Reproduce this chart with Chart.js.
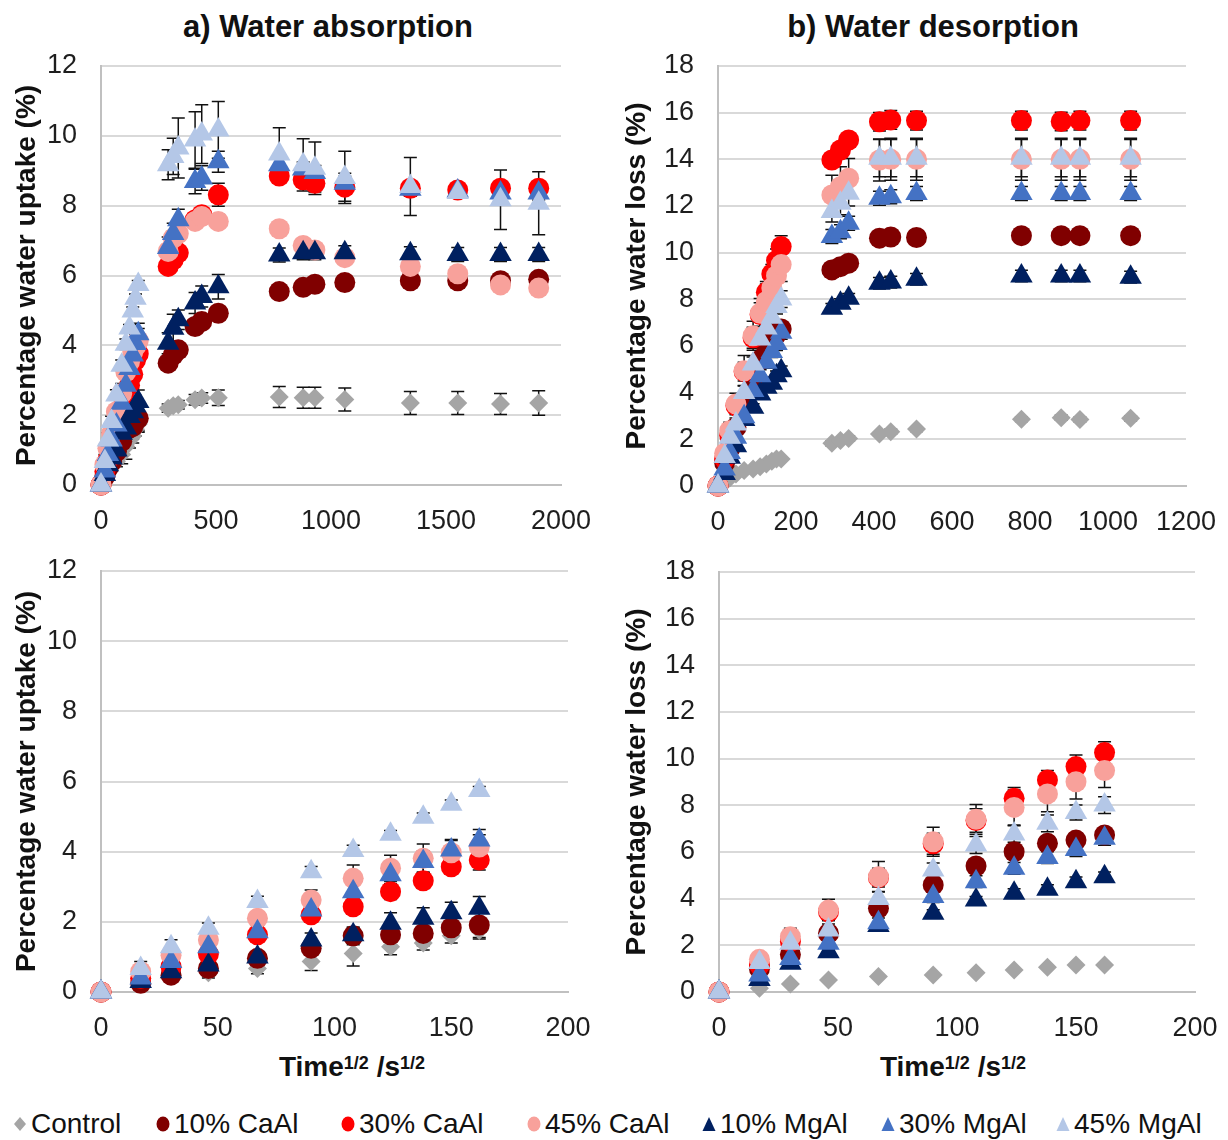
<!DOCTYPE html>
<html>
<head>
<meta charset="utf-8">
<script src="https://cdn.jsdelivr.net/npm/chart.js@4.4.0/dist/chart.umd.min.js"></script>
<style>
  html, body { margin:0; padding:0; background:#fff; }
  body { width:1228px; height:1140px; overflow:hidden; position:relative; font-family:"Liberation Sans", Arial, sans-serif; color:#111; }
  canvas { position:absolute; }
  .ttl { position:absolute; font-weight:bold; font-size:31px; line-height:34px; text-align:center; width:420px; white-space:nowrap; }
  .xt { position:absolute; font-weight:bold; font-size:28px; line-height:32px; text-align:center; width:300px; white-space:nowrap; }
  .xt sup { font-size:18px; vertical-align:top; position:relative; top:-4px; }
  .lg { position:absolute; top:1107px; font-size:28px; line-height:34px; white-space:nowrap; display:flex; align-items:center; }
  .lg svg { margin-right:4px; }
</style>
</head>
<body>
<div class="ttl" style="left:118px; top:10px;">a) Water absorption</div>
<div class="ttl" style="left:723px; top:10px;">b) Water desorption</div>
<canvas id="c1" width="610" height="510" style="left:0px; top:40px;"></canvas>
<canvas id="c2" width="618" height="510" style="left:610px; top:40px;"></canvas>
<canvas id="c3" width="610" height="500" style="left:0px; top:540px;"></canvas>
<canvas id="c4" width="618" height="500" style="left:610px; top:540px;"></canvas>
<div class="xt" style="left:202px; top:1051px;">Time<sup>1/2</sup> /s<sup>1/2</sup></div>
<div class="xt" style="left:803px; top:1051px;">Time<sup>1/2</sup> /s<sup>1/2</sup></div>
<div id="legend"></div>
<script>
// ---------- DATA ----------
const seriesNames = ["Control", "10% CaAl", "30% CaAl", "45% CaAl", "10% MgAl", "30% MgAl", "45% MgAl"];

// Absorption: time^1/2 (s^1/2)
const absX = [0,17,30,46,67,90,108,124,138,150,162,292,314,336,409,438,510,775,879,930,1060,1345,1551,1737,1903];
const absControl = [0,0.3,0.5,0.55,0.67,0.87,1.1,1.29,1.4,1.6,1.75, 2.2,2.27,2.3,2.44,2.49,2.5, 2.52,2.5,2.5,2.45,2.35,2.35,2.32,2.35];
const absCa10 = [0,0.25,0.48,0.67,0.96,1.25,1.6,1.63,1.67,1.83,1.91, 3.49,3.72,3.87,4.54,4.68,4.92, 5.54,5.66,5.75,5.8,5.85,5.85,5.85,5.89];
const absCa30 = [0,0.39,0.72,1.08,1.63,2.2,2.43,2.86,3.17,3.57,3.76, 6.26,6.45,6.65,7.59,7.74,8.31, 8.85,8.74,8.64,8.53,8.5,8.45,8.5,8.5];
const absCa45 = [0,0.58,1.05,1.48,2.1,2.62,3.24,3.53,3.81,3.97,4.13, 6.69,7.07,7.2,7.55,7.69,7.55, 7.34,6.86,6.73,6.51,6.26,6.05,5.73,5.64];
const absMg10 = [0,0.3,0.58,0.77,1.0,1.48,1.63,1.96,2.1,2.26,2.39, 4.06,4.49,4.73,5.21,5.4,5.68, 6.59,6.65,6.65,6.65,6.62,6.6,6.6,6.6];
const absMg30 = [0,0.4,0.87,1.29,1.72,2.34,2.86,3.34,3.72,4.05,4.33, 6.8,7.2,7.6,8.69,8.79,9.26, 9.17,9.05,8.95,8.64,8.47,8.42,8.36,8.36];
const absMg45 = [0,0.67,1.29,1.82,2.58,3.43,4.03,4.5,4.98,5.35,5.74, 9.17,9.41,9.65,9.88,10.05,10.17, 9.48,9.17,9.07,8.81,8.55,8.38,8.17,8.07];
// Absorption error bars (±)
const absControlErr = [0,0.1,0.1,0.15,0.15,0.26,0.36,0.23,0.2,0.2,0.2, 0.12,0.12,0.12,0.15,0.15,0.22, 0.3,0.3,0.3,0.33,0.33,0.33,0.3,0.35];
const absCa10Err = [0,0.05,0.08,0.1,0.15,0.2,0.25,0.3,0.35,0.28,0.4, 0.15,0.15,0.15,0.15,0.15,0.15, 0.12,0.12,0.12,0.12,0.12,0.12,0.12,0.12];
const absCa30Err = [0,0.05,0.1,0.1,0.15,0.2,0.2,0.22,0.22,0.15,0.28, 0.15,0.15,0.15,0.2,0.2,0.33, 0.2,0.2,0.25,0.4,0.1,0.1,0.1,0.1];
const absCa45Err = [0,0.1,0.1,0.1,0.15,0.29,0.38,0.37,0.41,0.35,0.35, 0.2,0.2,0.2,0.2,0.2,0.2, 0.15,0.15,0.15,0.15,0.15,0.15,0.15,0.15];
const absMg10Err = [0,0.05,0.08,0.1,0.15,0.2,0.2,0.3,0.3,0.3,0.33, 0.3,0.4,0.28,0.3,0.3,0.35, 0.2,0.2,0.2,0.2,0.2,0.2,0.2,0.2];
const absMg30Err = [0,0.1,0.15,0.15,0.15,0.2,0.2,0.25,0.3,0.3,0.3, 0.3,0.3,0.3,0.35,0.35,0.3, 0.2,0.2,0.2,0.2,0.2,0.2,0.2,0.2];
const absMg45Err = [0,0.2,0.2,0.15,0.15,0.15,0.15,0.1,0.12,0.12,0.12, 0.43,0.52,0.86,0.81,0.84,0.81, 0.75,0.75,0.75,0.75,0.83,0.1,0.85,0.9];

// Desorption: time^1/2 (s^1/2)
const desX = [0,17,30,46,67,90,108,124,138,150,162,292,314,335,414,443,509,778,880,928,1058];
const desControl = [0,0.16,0.34,0.51,0.66,0.73,0.83,0.94,1.06,1.16,1.16, 1.83,1.95,2.04,2.23,2.33,2.44, 2.86,2.93,2.85,2.9];
const desCa10 = [0,1.0,1.61,2.51,3.59,4.59,5.4,6.01,6.37,6.51,6.73, 9.26,9.4,9.55,10.62,10.67,10.65, 10.73,10.73,10.73,10.73];
const desCa30 = [0,1.16,2.16,3.44,4.9,6.35,7.35,8.3,9.09,9.66,10.26, 13.97,14.4,14.83,15.61,15.69,15.66, 15.66,15.62,15.66,15.66];
const desCa45 = [0,1.4,2.37,3.51,4.94,6.44,7.4,7.91,8.49,9.01,9.49, 12.47,12.83,13.19,13.97,14.0,14.0, 14.0,14.0,14.0,14.0];
const desMg10 = [0,0.54,1.23,1.73,2.85,3.37,3.94,4.23,4.4,4.73,4.94, 7.62,7.83,8.05,8.69,8.74,8.86, 9.0,9.0,9.0,8.95];
const desMg30 = [0,0.73,1.44,2.09,2.97,4.09,4.73,5.3,5.76,6.11,6.59, 10.69,10.9,11.26,12.33,12.4,12.54, 12.54,12.54,12.54,12.54];
const desMg45 = [0,1.26,2.09,2.66,4.01,5.23,6.3,6.77,7.23,7.69,8.01, 11.76,12.12,12.55,14.05,14.05,14.05, 14.05,14.05,14.05,14.05];
// Desorption error bars (±)
const desControlErr = [0,0.05,0.05,0.05,0.05,0.05,0.05,0.05,0.05,0.05,0.05, 0.1,0.1,0.1,0.1,0.1,0.1, 0.1,0.1,0.1,0.1];
const desCa10Err = [0,0.1,0.2,0.25,0.3,0.3,0.3,0.3,0.3,0.3,0.3, 0.25,0.25,0.25,0.3,0.3,0.3, 0.3,0.3,0.3,0.3];
const desCa30Err = [0,0.1,0.2,0.3,0.4,0.45,0.5,0.46,0.4,0.5,0.47, 0.3,0.3,0.3,0.4,0.4,0.4, 0.4,0.4,0.4,0.4];
const desCa45Err = [0,0.15,0.36,0.46,0.65,0.62,0.64,0.75,0.76,0.74,0.73, 0.85,0.85,0.85,0.9,0.9,0.9, 0.9,0.9,0.9,0.9];
const desMg10Err = [0,0.05,0.1,0.1,0.15,0.15,0.15,0.2,0.2,0.2,0.2, 0.2,0.2,0.2,0.25,0.25,0.25, 0.25,0.25,0.25,0.25];
const desMg30Err = [0,0.1,0.15,0.2,0.2,0.25,0.25,0.25,0.25,0.3,0.3, 0.3,0.3,0.3,0.3,0.3,0.3, 0.3,0.3,0.3,0.3];
const desMg45Err = [0,0.15,0.2,0.25,0.3,0.3,0.36,0.35,0.36,0.32,0.36, 0.45,0.5,0.55,0.8,0.8,0.8, 0.8,0.8,0.8,0.8];

const absY = [absControl, absCa10, absCa30, absCa45, absMg10, absMg30, absMg45];
const absE = [absControlErr, absCa10Err, absCa30Err, absCa45Err, absMg10Err, absMg30Err, absMg45Err];
const desY = [desControl, desCa10, desCa30, desCa45, desMg10, desMg30, desMg45];
const desE = [desControlErr, desCa10Err, desCa30Err, desCa45Err, desMg10Err, desMg30Err, desMg45Err];

// ---------- STYLES ----------
const seriesColors = ["#a5a5a5", "#800000", "#ff0000", "#f8a19b", "#002060", "#4472c4", "#b4c7e7"];
const seriesShapes = ["rectRot", "circle", "circle", "circle", "triangle", "triangle", "triangle"];
const shapeRadius = { rectRot: 9.5, circle: 10.5, triangle: 13 };

Chart.defaults.font.family = '"Liberation Sans", Arial, sans-serif';
Chart.defaults.color = '#1e1e1e';

// Error bars drawn behind the markers, through the chart's own scales
const errorBars = {
  id: 'errorBars',
  beforeDatasetsDraw(chart) {
    const { ctx, scales: { x, y } } = chart;
    ctx.save();
    ctx.strokeStyle = '#111';
    ctx.lineWidth = 1.5;
    const cap = 6.5;
    chart.data.datasets.forEach(ds => {
      ds.data.forEach(p => {
        if (!p.e) return;
        const px = x.getPixelForValue(p.x);
        const yt = y.getPixelForValue(p.y + p.e);
        const yb = y.getPixelForValue(p.y - p.e);
        ctx.beginPath();
        ctx.moveTo(px, yt); ctx.lineTo(px, yb);
        ctx.moveTo(px - cap, yt); ctx.lineTo(px + cap, yt);
        ctx.moveTo(px - cap, yb); ctx.lineTo(px + cap, yb);
        ctx.stroke();
      });
    });
    ctx.restore();
  }
};

function makeChart(id, xs, ys, es, xmax, xstep, ymax, yTitle, yWidth, xHeight, pad) {
  const datasets = seriesNames.map((name, i) => ({
    label: name,
    data: xs.map((x, j) => ({ x: x, y: ys[i][j], e: es[i][j] })).filter(p => p.x <= xmax),
    showLine: false,
    pointStyle: seriesShapes[i],
    pointRadius: shapeRadius[seriesShapes[i]],
    pointHoverRadius: shapeRadius[seriesShapes[i]],
    backgroundColor: seriesColors[i],
    borderColor: seriesColors[i],
    borderWidth: 0,
    clip: false
  })).reverse(); // last legend series drawn on top

  return new Chart(document.getElementById(id), {
    type: 'scatter',
    data: { datasets },
    plugins: [errorBars],
    options: {
      responsive: false,
      animation: false,
      events: [],
      layout: { padding: pad },
      plugins: { legend: { display: false }, tooltip: { enabled: false }, title: { display: false } },
      scales: {
        x: {
          type: 'linear', min: 0, max: xmax,
          grid: { display: false },
          border: { display: true, color: '#c0c0c0', width: 2 },
          ticks: { stepSize: xstep, font: { size: 27 }, padding: 12, maxRotation: 0, autoSkip: false, color: '#1e1e1e',
                   callback: v => String(v) },
          afterFit(s) { s.height = xHeight; s.paddingLeft = 0; s.paddingRight = 0; }
        },
        y: {
          type: 'linear', min: 0, max: ymax,
          grid: { color: '#d9d9d9', lineWidth: 2, drawTicks: false },
          border: { display: true, color: '#c0c0c0', width: 2 },
          ticks: { stepSize: 2, font: { size: 27 }, padding: 24, color: '#1e1e1e', callback: v => String(v) },
          title: { display: true, text: yTitle, font: { size: 28, weight: 'bold' }, padding: { top: 10, bottom: 0 }, color: '#111' },
          afterFit(s) { s.width = yWidth; s.paddingTop = 0; s.paddingBottom = 0; }
        }
      }
    }
  });
}

makeChart('c1', absX, absY, absE, 2000, 500, 12, 'Percentage water uptake (%)', 101, 65, { top: 26, right: 49, left: 0, bottom: 0 });
makeChart('c2', desX, desY, desE, 1200, 200, 18, 'Percentage water loss (%)', 108, 64, { top: 26, right: 42, left: 0, bottom: 0 });
makeChart('c3', absX, absY, absE, 200, 50, 12, 'Percentage water uptake (%)', 101, 48, { top: 31, right: 42, left: 0, bottom: 0 });
makeChart('c4', desX, desY, desE, 200, 50, 18, 'Percentage water loss (%)', 109, 48, { top: 32, right: 33, left: 0, bottom: 0 });

// ---------- LEGEND (HTML text) ----------
const legendLeft = [13, 156, 341, 527, 702, 881, 1056];
function markerSvg(shape, color) {
  if (shape === 'rectRot') return `<svg width="14" height="16" viewBox="0 0 14 16"><polygon points="7,1 13,8 7,15 1,8" fill="${color}"/></svg>`;
  if (shape === 'circle') return `<svg width="14" height="16" viewBox="0 0 14 16"><ellipse cx="7" cy="8" rx="6.5" ry="7.5" fill="${color}"/></svg>`;
  return `<svg width="14" height="16" viewBox="0 0 14 16"><polygon points="7,1 13.5,15 0.5,15" fill="${color}"/></svg>`;
}
const lg = document.getElementById('legend');
seriesNames.forEach((name, i) => {
  const d = document.createElement('div');
  d.className = 'lg';
  d.style.left = legendLeft[i] + 'px';
  d.innerHTML = markerSvg(seriesShapes[i], seriesColors[i]) + '<span>' + name + '</span>';
  lg.appendChild(d);
});
</script>
</body>
</html>
